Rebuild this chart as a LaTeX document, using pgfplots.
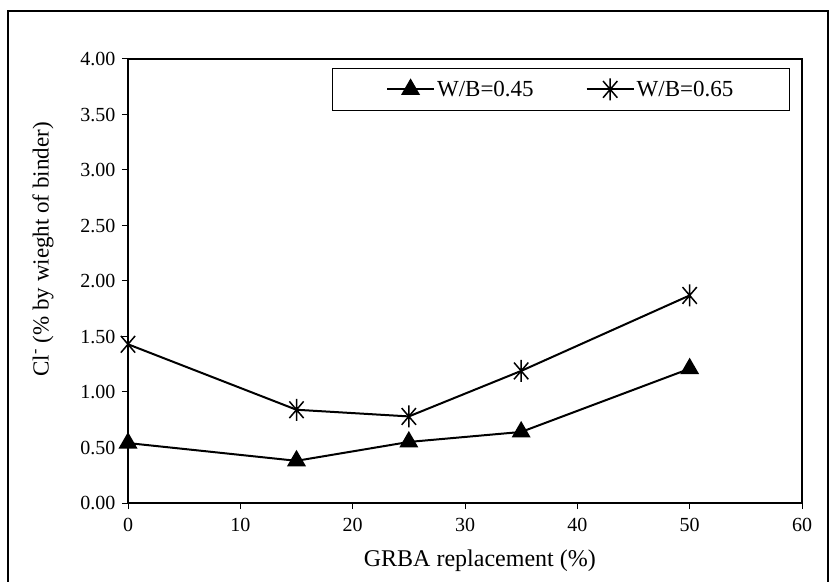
\documentclass[border=0pt]{standalone}
\usepackage{fontspec}
\setmainfont{Liberation Serif}
\usepackage{pgfplots}
\pgfplotsset{compat=1.18}
\pgfdeclareplotmark{xstar}{%
  \pgfpathmoveto{\pgfqpoint{0pt}{\pgfplotmarksize}}%
  \pgfpathlineto{\pgfqpoint{0pt}{-\pgfplotmarksize}}%
  \pgfpathmoveto{\pgfqpoint{-0.65\pgfplotmarksize}{-0.76\pgfplotmarksize}}%
  \pgfpathlineto{\pgfqpoint{0.65\pgfplotmarksize}{0.76\pgfplotmarksize}}%
  \pgfpathmoveto{\pgfqpoint{-0.65\pgfplotmarksize}{0.76\pgfplotmarksize}}%
  \pgfpathlineto{\pgfqpoint{0.65\pgfplotmarksize}{-0.76\pgfplotmarksize}}%
  \pgfusepathqstroke}
\begin{document}
\begin{tikzpicture}
\useasboundingbox (0,0) rectangle (830bp,582bp);
\fill[white] (0,0) rectangle (830bp,582bp);
\draw[line width=1.2bp] (8bp,-5bp) -- (8bp,571bp) -- (828bp,571bp) -- (828bp,-5bp);
\begin{axis}[
  at={(128bp,79bp)}, anchor=south west,
  scale only axis, width=674bp, height=444bp,
  xmin=0, xmax=60, ymin=0, ymax=4,
  xtick={0,10,...,60},
  ytick={0,0.5,...,4},
  yticklabel style={/pgf/number format/fixed, /pgf/number format/precision=2, /pgf/number format/fixed zerofill, xshift=-3bp},
  xticklabel style={yshift=-6bp},
  /pgf/number format/assume math mode=true,
  tick label style={font=\fontsize{20bp}{22bp}\selectfont},
  tick align=outside, tick pos=left,
  major tick length=6bp,
  axis line style={line width=1.6bp},
  tick style={line width=1bp, black},
  xlabel={GRBA replacement (\%)},
  ylabel={Cl\textsuperscript{-} (\% by wieght of binder)},
  label style={font=\fontsize{24bp}{26bp}\selectfont},
  xlabel style={at={(axis description cs:0.522,-0.142)}, anchor=base},
  ylabel style={at={(axis description cs:-0.126,0.277)}, anchor=west, font=\fontsize{23bp}{25bp}\selectfont},
  legend columns=2,
  legend style={at={(0.982,0.980)}, anchor=north east, draw=black, line width=1bp,
    font=\fontsize{23bp}{25bp}\selectfont, inner xsep=54bp, inner ysep=10bp,
    /tikz/every even column/.append style={column sep=50bp}},
  legend image code/.code={\draw[mark repeat=2,mark phase=2,#1] plot coordinates {(0bp,0bp)(23.5bp,0bp)(47bp,0bp)};},
]
\addplot[black, line width=2bp, mark=triangle*, mark size=9bp, mark options={solid}]
  coordinates {(0,0.54) (15,0.38) (25,0.55) (35,0.64) (50,1.21)};
\addlegendentry{W/B=0.45}
\addplot[black, line width=2bp, mark=xstar, mark size=11bp, mark options={solid, line width=1.5bp}]
  coordinates {(0,1.43) (15,0.84) (25,0.78) (35,1.19) (50,1.87)};
\addlegendentry{W/B=0.65}
\end{axis}
\end{tikzpicture}
\end{document}
